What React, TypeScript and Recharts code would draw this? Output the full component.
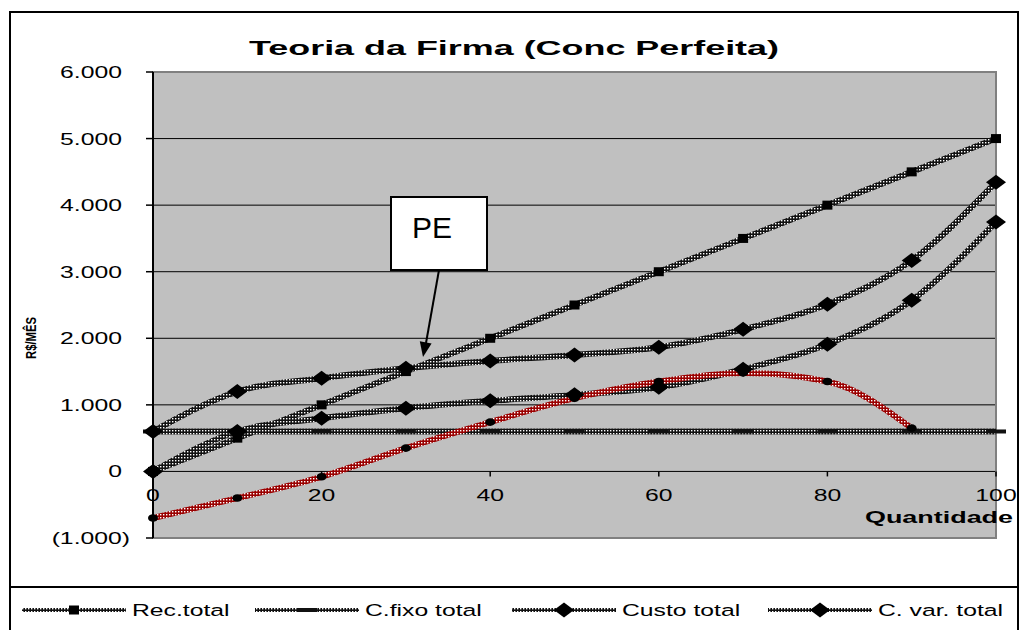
import React from "react";
import { LineChart, Line, XAxis, YAxis, CartesianGrid, Legend, ReferenceArea } from "recharts";

const quantidade = [0, 10, 20, 30, 40, 50, 60, 70, 80, 90, 100];
const recTotal = [0, 500, 1000, 1500, 2000, 2500, 3000, 3500, 4000, 4500, 5000];
const cFixoTotal = [600, 600, 600, 600, 600, 600, 600, 600, 600, 600, 600];
const custoTotal = [600, 1200, 1400, 1550, 1660, 1750, 1865, 2135, 2510, 3170, 4345];
const cVarTotal = [0, 600, 800, 950, 1060, 1150, 1265, 1535, 1910, 2570, 3745];
const lucro = [-700, -400, -80, 350, 740, 1100, 1350, 1480, 1350, 650, null];
const xTicks = [0, 20, 40, 60, 80, 100];
const yTicks = [-1000, 0, 1000, 2000, 3000, 4000, 5000, 6000];
const legendOrder = ["rec", "fixo", "custo", "cvar"];

const data = quantidade.map((q, i) => ({
  q,
  rec: recTotal[i],
  fixo: cFixoTotal[i],
  custo: custoTotal[i],
  cvar: cVarTotal[i],
  lucro: lucro[i],
}));

const FONT = "'Liberation Sans', Arial, Helvetica, sans-serif";
const W = 1023;
const H = 630;
const PLOT_TOP = 72;
const PLOT_BOTTOM = 538;
const PLOT_LEFT = 153;
const PLOT_RIGHT = 996;
const Y_MIN = -1000;
const Y_MAX = 6000;
const Y_AXIS_W = 60;
const X_AXIS_H = 30;
// distance from plot bottom up to the zero line (x axis crosses at 0)
const ZERO_UP = ((PLOT_BOTTOM - PLOT_TOP) * (0 - Y_MIN)) / (Y_MAX - Y_MIN);
const STRETCH = 1.5;
const LINE_W = 6;

const fmt = (v: number) => {
  const s = Math.abs(v).toString().replace(/\B(?=(\d{3})+(?!\d))/g, ".");
  return v < 0 ? `(${s})` : s;
};

function YTick({ x, y, payload }: any) {
  const v = payload.value as number;
  return (
    <text
      transform={`translate(${v < 0 ? x + 8 : x},${y}) scale(${STRETCH},1)`}
      textAnchor="end"
      dy="0.36em"
      fontSize={16.5}
      fontFamily={FONT}
      fill="#000"
    >
      {fmt(v)}
    </text>
  );
}

function XTick({ x, y, payload }: any) {
  const zy = y - ZERO_UP;
  return (
    <g>
      <line x1={x} x2={x} y1={zy} y2={zy + 5} stroke="#000" strokeWidth={1.5} />
      <text
        transform={`translate(${x},${zy + 30}) scale(${STRETCH},1)`}
        textAnchor="middle"
        fontSize={16.5}
        fontFamily={FONT}
        fill="#000"
      >
        {payload.value}
      </text>
    </g>
  );
}

function SquareDot({ cx, cy }: any) {
  if (cx == null || cy == null) return <g />;
  return <rect x={cx - 5} y={cy - 4.5} width={10} height={9} fill="#000" />;
}

function DashDot({ cx, cy }: any) {
  if (cx == null || cy == null) return <g />;
  return <rect x={cx - 10} y={cy - 2} width={20} height={4} fill="#111" />;
}

function DiamondDot({ cx, cy }: any) {
  if (cx == null || cy == null) return <g />;
  return <polygon points={`${cx - 10},${cy} ${cx},${cy - 7.5} ${cx + 10},${cy} ${cx},${cy + 7.5}`} fill="#000" />;
}

function RoundDot({ cx, cy }: any) {
  if (cx == null || cy == null) return <g />;
  return <ellipse cx={cx} cy={cy} rx={5} ry={3.8} fill="#000" />;
}

const legendMarkers: Record<string, any> = {
  rec: SquareDot,
  fixo: DashDot,
  custo: DiamondDot,
  cvar: DiamondDot,
};
const LEGEND_X = [22, 255, 512, 768];

function renderLegend(props: any) {
  const items = (props.payload ?? [])
    .filter((p: any) => p.type !== "none" && legendMarkers[p.dataKey])
    .sort((a: any, b: any) => legendOrder.indexOf(a.dataKey) - legendOrder.indexOf(b.dataKey));
  return (
    <svg width={W} height={30}>
      {items.map((item: any, i: number) => {
        const x0 = LEGEND_X[i];
        const Marker = legendMarkers[item.dataKey];
        return (
          <g key={item.dataKey}>
            <line x1={x0} x2={x0 + 104} y1={15} y2={15} stroke="url(#chainDark)" strokeWidth={4} />
            <Marker cx={x0 + 52} cy={15} />
            <text
              transform={`translate(${x0 + 110},21) scale(${STRETCH},1)`}
              fontSize={16.5}
              fontFamily={FONT}
              fill="#000"
            >
              {item.value}
            </text>
          </g>
        );
      })}
    </svg>
  );
}

export default function App() {
  return (
    <div style={{ position: "absolute", left: 0, top: 0, width: W, height: H, background: "#fff", fontFamily: FONT }}>
      <svg width={0} height={0} style={{ position: "absolute" }}>
        <defs>
          <pattern id="chainDark" width={3} height={3} patternUnits="userSpaceOnUse">
            <rect width={3} height={3} fill="#111" />
            <rect x={1} y={1} width={1.4} height={1.4} fill="#ffffff" />
          </pattern>
          <pattern id="chainRed" width={3} height={3} patternUnits="userSpaceOnUse">
            <rect width={3} height={3} fill="#9a0000" />
            <rect x={1} y={1} width={1.4} height={1.4} fill="#ffffff" />
          </pattern>
        </defs>
      </svg>
      <LineChart
        width={W}
        height={H}
        data={data}
        margin={{
          top: PLOT_TOP,
          right: W - PLOT_RIGHT,
          bottom: H - PLOT_BOTTOM - X_AXIS_H,
          left: PLOT_LEFT - Y_AXIS_W,
        }}
      >
        <CartesianGrid
          vertical={false}
          fill="#c0c0c0"
          stroke="#000"
          strokeWidth={1}
          horizontalValues={yTicks.filter((v) => v > Y_MIN)}
        />
        <ReferenceArea x1={0} x2={100} y1={Y_MIN} y2={Y_MAX} fill="none" stroke="#808080" strokeWidth={2} />
        <XAxis
          dataKey="q"
          type="number"
          domain={[0, 100]}
          ticks={xTicks}
          interval={0}
          axisLine={false}
          tickLine={false}
          tickSize={0}
          tickMargin={0}
          height={X_AXIS_H}
          tick={<XTick />}
        />
        <YAxis
          type="number"
          domain={[Y_MIN, Y_MAX]}
          ticks={yTicks}
          interval={0}
          width={Y_AXIS_W}
          axisLine={{ stroke: "#000", strokeWidth: 2 }}
          tickLine={{ stroke: "#000", strokeWidth: 1.5 }}
          tickSize={7}
          tickMargin={24}
          tick={<YTick />}
        />
        <Line type="monotone" dataKey="rec" name="Rec.total" stroke="url(#chainDark)" strokeWidth={LINE_W} dot={<SquareDot />} activeDot={false} isAnimationActive={false} />
        <Line type="monotone" dataKey="fixo" name="C.fixo total" stroke="url(#chainDark)" strokeWidth={LINE_W} dot={<DashDot />} activeDot={false} isAnimationActive={false} />
        <Line type="monotone" dataKey="custo" name="Custo total" stroke="url(#chainDark)" strokeWidth={LINE_W} dot={<DiamondDot />} activeDot={false} isAnimationActive={false} />
        <Line type="monotone" dataKey="cvar" name="C. var. total" stroke="url(#chainDark)" strokeWidth={LINE_W} dot={<DiamondDot />} activeDot={false} isAnimationActive={false} />
        <Line type="monotone" dataKey="lucro" name="Lucro" legendType="none" stroke="url(#chainRed)" strokeWidth={LINE_W} dot={<RoundDot />} activeDot={false} isAnimationActive={false} />
        <Legend
          layout="horizontal"
          verticalAlign="middle"
          align="center"
          content={renderLegend}
          wrapperStyle={{ top: 595, left: 0, width: W, height: 30 }}
        />
      </LineChart>
      <svg width={W} height={H} style={{ position: "absolute", left: 0, top: 0, pointerEvents: "none" }}>
        <rect x={10} y={12} width={1008} height={660} fill="none" stroke="#000" strokeWidth={2} />
        <line x1={10} x2={1018} y1={587} y2={587} stroke="#000" strokeWidth={2} />
        <text
          x={514}
          y={55}
          textAnchor="middle"
          fontSize={21}
          fontWeight="bold"
          fontFamily={FONT}
          textLength={530}
          lengthAdjust="spacingAndGlyphs"
        >
          Teoria da Firma (Conc Perfeita)
        </text>
        <text
          x={939}
          y={523}
          textAnchor="middle"
          fontSize={17}
          fontWeight="bold"
          fontFamily={FONT}
          textLength={148}
          lengthAdjust="spacingAndGlyphs"
        >
          Quantidade
        </text>
        <text
          transform="translate(36,338) rotate(-90) scale(1,1.4)"
          textAnchor="middle"
          fontSize={10}
          fontWeight="bold"
          fontFamily={FONT}
          textLength={42}
          lengthAdjust="spacingAndGlyphs"
        >
          R$/MÊS
        </text>
        <rect x={391} y={197} width={96} height={73} fill="#fff" stroke="#000" strokeWidth={2} />
        <text x={412} y={238} fontSize={30} fontFamily={FONT}>
          PE
        </text>
        <line x1={439} y1={270} x2={426} y2={343} stroke="#000" strokeWidth={2} />
        <polygon points="423,357 431.6,343.4 419.8,341.2" fill="#000" />
      </svg>
    </div>
  );
}
